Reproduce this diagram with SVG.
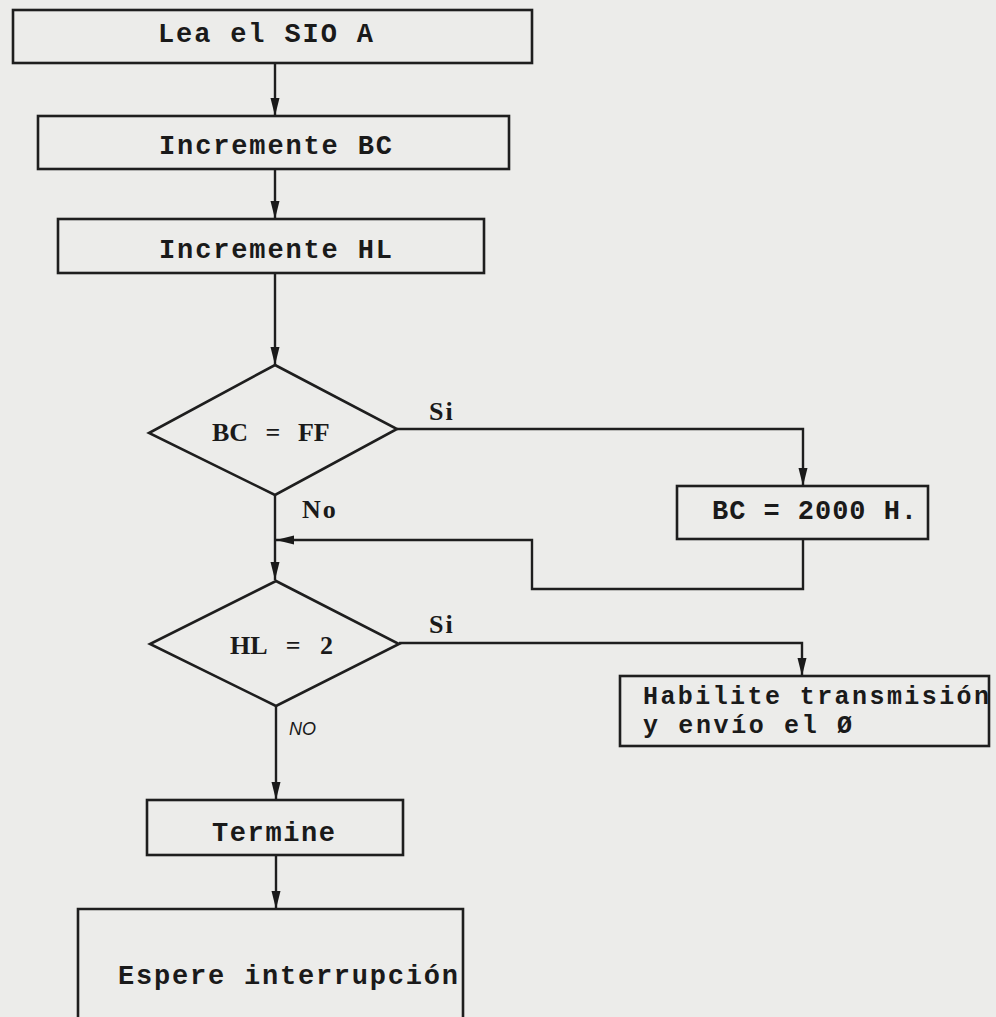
<svg xmlns="http://www.w3.org/2000/svg" width="996" height="1017" viewBox="0 0 996 1017">
  <style>
    .box { fill: none; stroke: #1e1e1e; stroke-width: 2.6; }
    .wire { fill: none; stroke: #1e1e1e; stroke-width: 2.4; }
    .mono { font-family: "Liberation Mono", "DejaVu Sans Mono", monospace; font-weight: bold; font-size: 27px; fill: #1a1a1a; }
    .mono2 { font-family: "Liberation Mono", "DejaVu Sans Mono", monospace; font-weight: bold; font-size: 25px; fill: #1a1a1a; }
    .serif { font-family: "Liberation Serif", "DejaVu Serif", serif; font-weight: bold; font-size: 26px; fill: #1a1a1a; }
    .label { font-family: "Liberation Serif", "DejaVu Serif", serif; font-weight: bold; font-size: 26px; letter-spacing: 2px; fill: #1a1a1a; }
    .ital { font-family: "Liberation Sans", Arial, sans-serif; font-style: italic; font-size: 18px; fill: #1a1a1a; }
  </style>
  <defs>
    <marker id="arrow" viewBox="0 0 18 10" refX="18" refY="5" markerWidth="18" markerHeight="10" markerUnits="userSpaceOnUse" orient="auto">
      <path d="M0,0.5 L18,5 L0,9.5 Z" fill="#1a1a1a"/>
    </marker>
  </defs>
  <rect width="996" height="1017" fill="#ececea"/>

  <g id="connectors">
    <line class="wire" x1="275" y1="63" x2="275" y2="116" marker-end="url(#arrow)"/>
    <line class="wire" x1="275" y1="169" x2="275" y2="219" marker-end="url(#arrow)"/>
    <line class="wire" x1="275" y1="273" x2="275" y2="365" marker-end="url(#arrow)"/>
    <polyline class="wire" points="397,429 803,429 803,486" marker-end="url(#arrow)"/>
    <line class="wire" x1="275" y1="495" x2="275" y2="580" marker-end="url(#arrow)"/>
    <polyline class="wire" points="803,539 803,589 532,589 532,540 276,540" marker-end="url(#arrow)"/>
    <polyline class="wire" points="399,643 802,643 802,676" marker-end="url(#arrow)"/>
    <line class="wire" x1="276" y1="706" x2="276" y2="800" marker-end="url(#arrow)"/>
    <line class="wire" x1="276" y1="855" x2="276" y2="909" marker-end="url(#arrow)"/>
    <text class="label" x="429" y="420">Si</text>
    <text class="label" x="302" y="518">No</text>
    <text class="label" x="429" y="633">Si</text>
    <text class="ital" x="289" y="735">NO</text>
  </g>

  <g id="n-lea">
    <rect class="box" x="13" y="10" width="519" height="53"/>
    <text class="mono" x="158" y="42" textLength="215" lengthAdjust="spacing">Lea el SIO A</text>
  </g>
  <g id="n-inc-bc">
    <rect class="box" x="38" y="116" width="471" height="53"/>
    <text class="mono" x="159" y="154" textLength="233" lengthAdjust="spacing">Incremente BC</text>
  </g>
  <g id="n-inc-hl">
    <rect class="box" x="58" y="219" width="426" height="54"/>
    <text class="mono" x="159" y="258" textLength="233" lengthAdjust="spacing">Incremente HL</text>
  </g>
  <g id="n-bc-ff">
    <polygon class="box" points="275,365 397,429 275,495 149,433"/>
    <text class="serif" x="212" y="441" word-spacing="11">BC = FF</text>
  </g>
  <g id="n-bc-2000">
    <rect class="box" x="677" y="486" width="251" height="53"/>
    <text class="mono" x="712" y="519" textLength="205" lengthAdjust="spacing">BC = 2000 H.</text>
  </g>
  <g id="n-hl-2">
    <polygon class="box" points="276,581 399,644 276,706 150,644"/>
    <text class="serif" x="230" y="654" word-spacing="13">HL = 2</text>
  </g>
  <g id="n-habilite">
    <rect class="box" x="620" y="676" width="369" height="70"/>
    <text class="mono2" x="643" y="704" textLength="346" lengthAdjust="spacing">Habilite transmisión</text>
    <text class="mono2" x="643" y="733" textLength="209" lengthAdjust="spacing">y envío el Ø</text>
  </g>
  <g id="n-termine">
    <rect class="box" x="147" y="800" width="256" height="55"/>
    <text class="mono" x="212" y="841" textLength="123" lengthAdjust="spacing">Termine</text>
  </g>
  <g id="n-espere">
    <path class="box" d="M78,1020 V909 H463 V1020"/>
    <text class="mono" x="118" y="984" textLength="340" lengthAdjust="spacing">Espere interrupción</text>
  </g>
</svg>
